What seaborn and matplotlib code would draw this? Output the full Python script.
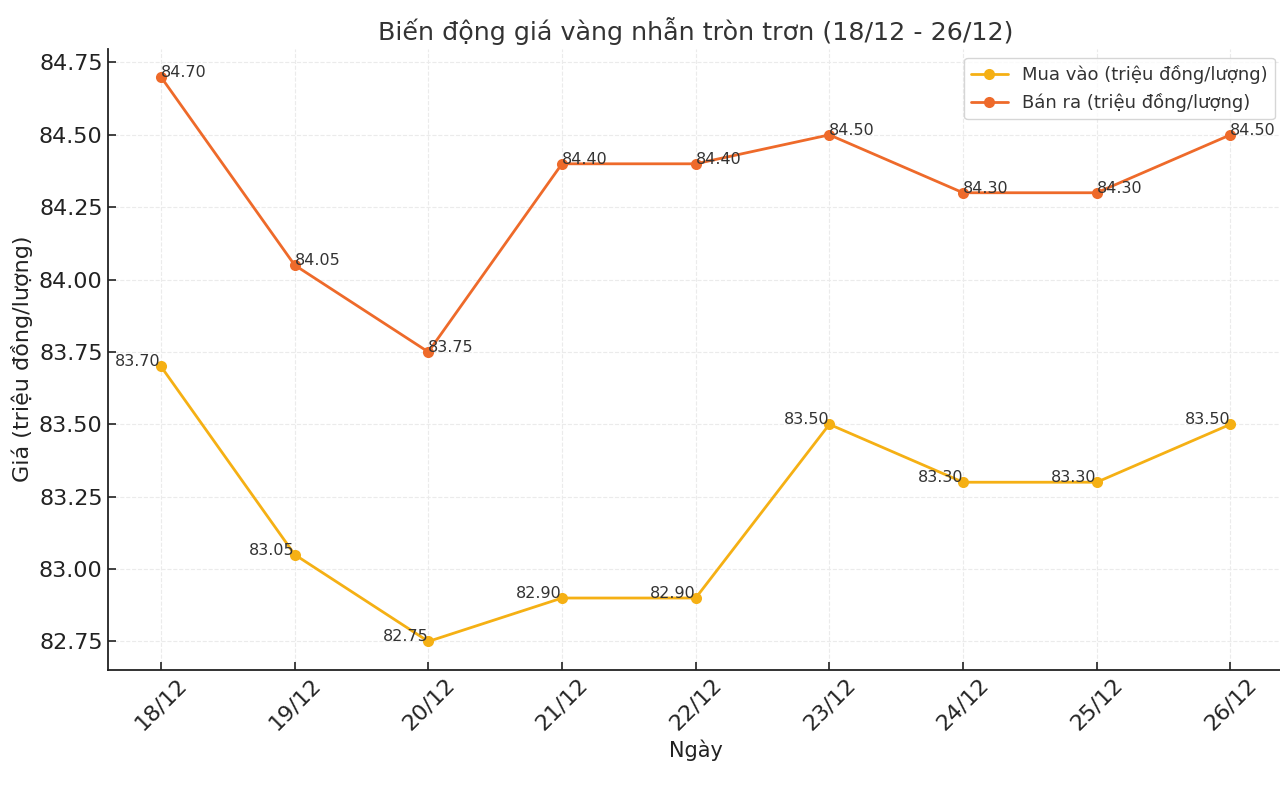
import matplotlib
matplotlib.use("Agg")
import matplotlib.pyplot as plt
import seaborn as sns
import pandas as pd

dates = ["18/12", "19/12", "20/12", "21/12", "22/12", "23/12", "24/12", "25/12", "26/12"]
mua_vao = [83.70, 83.05, 82.75, 82.90, 82.90, 83.50, 83.30, 83.30, 83.50]
ban_ra = [84.70, 84.05, 83.75, 84.40, 84.40, 84.50, 84.30, 84.30, 84.50]
label_mua = "Mua vào (triệu đồng/lượng)"
label_ban = "Bán ra (triệu đồng/lượng)"

sns.set_theme(style="ticks")
plt.rcParams['font.family'] = ['DejaVu Sans']

df = pd.DataFrame({"Ngày": dates * 2,
                   "Giá": mua_vao + ban_ra,
                   "Loại": [label_mua] * len(dates) + [label_ban] * len(dates)})

fig, ax = plt.subplots(figsize=(12.8, 7.86), dpi=100)
palette = {label_mua: "#F5B014", label_ban: "#EE6A2A"}
sns.lineplot(data=df, x="Ngày", y="Giá", hue="Loại", palette=palette, marker="o",
             markersize=8, markeredgewidth=0, linewidth=2, ax=ax, sort=False)

for i, v in enumerate(mua_vao):
    ax.text(i, v, f"{v:.2f}", ha="right", va="baseline", fontsize=11.5, color="#333333")
for i, v in enumerate(ban_ra):
    ax.text(i, v, f"{v:.2f}", ha="left", va="baseline", fontsize=11.5, color="#333333")

ax.set_title("Biến động giá vàng nhẫn tròn trơn (18/12 - 26/12)", fontsize=18.3, color="#333333")
ax.set_xlabel("Ngày", fontsize=15, color="#222222")
ax.set_ylabel("Giá (triệu đồng/lượng)", fontsize=16, color="#222222")
ax.tick_params(axis="both", direction="in", labelsize=16, length=6, width=1.2, colors="#222222")
plt.setp(ax.get_xticklabels(), rotation=45)
ax.yaxis.set_major_formatter(matplotlib.ticker.FormatStrFormatter("%.2f"))
ax.grid(True, linestyle="--", color="#ebebeb", linewidth=0.8)
sns.despine(ax=ax)
for s in ["left", "bottom"]:
    ax.spines[s].set_color("#222222")
    ax.spines[s].set_linewidth(1.3)
leg = ax.legend(loc="upper right", fontsize=13, frameon=True)
leg.get_frame().set_edgecolor("#cccccc")
for t in leg.get_texts():
    t.set_color("#333333")

fig.subplots_adjust(left=0.084, right=1.003, top=0.938, bottom=0.148)
fig.savefig("out.png", dpi=100)
